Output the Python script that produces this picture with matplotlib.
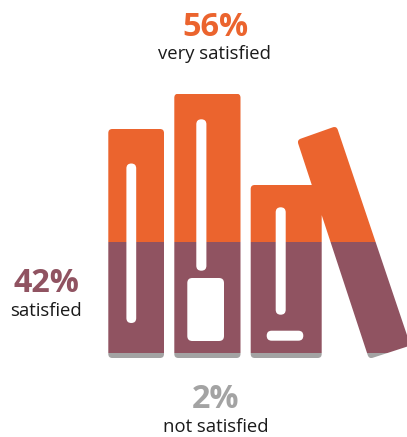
import numpy as np
import matplotlib
matplotlib.use('Agg')
import matplotlib.pyplot as plt
from matplotlib.patches import PathPatch
from matplotlib.path import Path

# Survey results, bottom band first
labels = ['not satisfied', 'satisfied', 'very satisfied']
values = [2, 42, 56]
colors = ['#a3a3a3', '#905361', '#eb642e']

plt.rcParams['font.family'] = ['Open Sans', 'DejaVu Sans']

W, H = 407, 437
BASE = 358      # pixel row of 0%
SCALE = 2.64    # pixels per percent


def to_y(py):
    return (BASE - np.asarray(py, dtype=float)) / SCALE


def rounded(pts, r):
    # closed polygon with rounded corners, points given in pixel rows
    pts = [np.array(p, dtype=float) for p in pts]
    n = len(pts)
    verts, codes = [], []
    for i in range(n):
        p, prev, nxt = pts[i], pts[i - 1], pts[(i + 1) % n]
        a = p + (prev - p) / np.linalg.norm(prev - p) * r
        b = p + (nxt - p) / np.linalg.norm(nxt - p) * r
        verts.append(a)
        codes.append(Path.MOVETO if i == 0 else Path.LINETO)
        verts += [p, b]
        codes += [Path.CURVE3, Path.CURVE3]
    verts.append(verts[0])
    codes.append(Path.CLOSEPOLY)
    verts = np.array(verts)
    return Path(np.column_stack([verts[:, 0], to_y(verts[:, 1])]), codes)


def box(x0, y0, x1, y1, r):
    return rounded([(x0, y0), (x1, y0), (x1, y1), (x0, y1)], r)


fig = plt.figure(figsize=(W / 100, H / 100), dpi=100)
ax = fig.add_axes([0, 0, 1, 1])
ax.set_xlim(0, W)
ax.set_ylim(to_y(H), to_y(0))
ax.axis('off')

# Book silhouettes
books = Path.make_compound_path(
    box(108.3, 129, 164, BASE, 4),
    box(174.3, 93.7, 240.5, BASE, 4),
    box(250.7, 185, 321.7, BASE, 4),
    rounded([(297, 140), (336.5, 126), (410.5, 345.5), (369, 359)], 4),
)
clip = PathPatch(books, transform=ax.transData, fc='none', ec='none')
ax.add_patch(clip)

# Stacked bands, cut to the shape of the books
bottom = 0
for val, col in zip(values, colors):
    bar = ax.bar(W / 2, val, width=W, bottom=bottom, color=col, linewidth=0)
    bar[0].set_clip_path(clip)
    bottom += val

# Spine slots and cut-outs
cutouts = [
    box(126.4, 163.5, 136.2, 323, 4.9),
    box(196.3, 119.3, 206.4, 270.7, 5),
    box(187.3, 278, 224, 341, 5),
    box(275.7, 207.3, 285.7, 314.7, 5),
    box(266.7, 330.7, 303.3, 340.7, 5),
]
for c in cutouts:
    ax.add_patch(PathPatch(c, fc='white', ec='none', zorder=3))

# Value callouts
big = 23.3
small = 13.3
ax.text(215.5, to_y(36.5), '56%', color=colors[2], fontsize=big, fontweight='bold',
        ha='center', va='baseline')
ax.text(215, to_y(59.5), labels[2], color='#1a1a1a', fontsize=small, ha='center', va='baseline')
ax.text(46, to_y(292.5), '42%', color=colors[1], fontsize=big, fontweight='bold',
        ha='center', va='baseline')
ax.text(46, to_y(315.5), labels[1], color='#1a1a1a', fontsize=small, ha='center', va='baseline')
ax.text(215.5, to_y(408.5), '2%', color=colors[0], fontsize=big, fontweight='bold',
        ha='center', va='baseline')
ax.text(215.5, to_y(432), labels[0], color='#1a1a1a', fontsize=small, ha='center', va='baseline')

fig.savefig('out.png', dpi=100)
